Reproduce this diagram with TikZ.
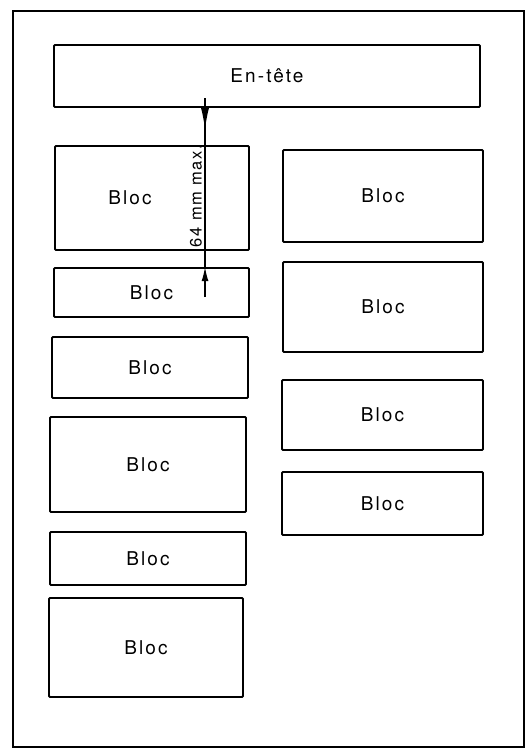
\documentclass[tikz,border=0pt]{standalone}
\usepackage{fontspec}
\setmainfont{TeX Gyre Heros}
\usetikzlibrary{arrows.meta}
\begin{document}
\begin{tikzpicture}[x=1pt,y=-1pt,
  blocfont/.style={font=\fontsize{19}{22}\selectfont\addfontfeatures{LetterSpace=11}},
  box/.style={draw, line width=1.8pt, inner sep=0pt, rounded corners=1pt, blocfont},
  frame/.style={draw, line width=2.4pt, inner sep=0pt},
  dimtxt/.style={font=\fontsize{16.5}{19}\selectfont\addfontfeatures{LetterSpace=10}, inner sep=1pt},
  dimline/.style={line width=1.3pt}]
\useasboundingbox (0,0) rectangle (528,755);
\node[frame, minimum width=511pt, minimum height=736pt] (frame) at (268.5,379) {};
% header
\node[box, minimum width=426pt, minimum height=62pt] (hdr) at (267,76) {En-tête};
% left column
\node[box, minimum width=194pt, minimum height=104pt] (l1) at (152,198) {};
\node[blocfont] (l1t) at (130,198) {Bloc};
\node[box, minimum width=195pt, minimum height=49pt] (l2) at (151.5,292.5) {Bloc};
\node[box, minimum width=196pt, minimum height=61pt] (l3) at (150,367.5) {Bloc};
\node[box, minimum width=196pt, minimum height=95pt] (l4) at (148,464.5) {Bloc};
\node[box, minimum width=196pt, minimum height=53pt] (l5) at (148,558.5) {Bloc};
\node[box, minimum width=194pt, minimum height=99pt] (l6) at (146,647.5) {Bloc};
% right column
\node[box, minimum width=200pt, minimum height=92pt] (r1) at (383,196) {Bloc};
\node[box, minimum width=200pt, minimum height=90pt] (r2) at (383,307) {Bloc};
\node[box, minimum width=201pt, minimum height=70pt] (r3) at (382.5,415) {Bloc};
\node[box, minimum width=201pt, minimum height=63pt] (r4) at (382.5,503.5) {Bloc};
% dimension
\coordinate (dtop) at (205,98);
\coordinate (dbot) at (205,297);
\coordinate (d1) at (hdr.south -| dtop);
\coordinate (d2) at (l2.north -| dtop);
\draw[dimline] (dtop) -- (d1);
\draw[dimline, {Latex[reversed,length=22pt,width=8pt]}-] (d1) -- (d2);
\draw[dimline, -{Latex[length=14pt,width=7pt]}] (dbot) -- (d2);
\node[dimtxt, rotate=90, anchor=south] (dimlbl) at (203,196) {64 mm max.};
\end{tikzpicture}
\end{document}
